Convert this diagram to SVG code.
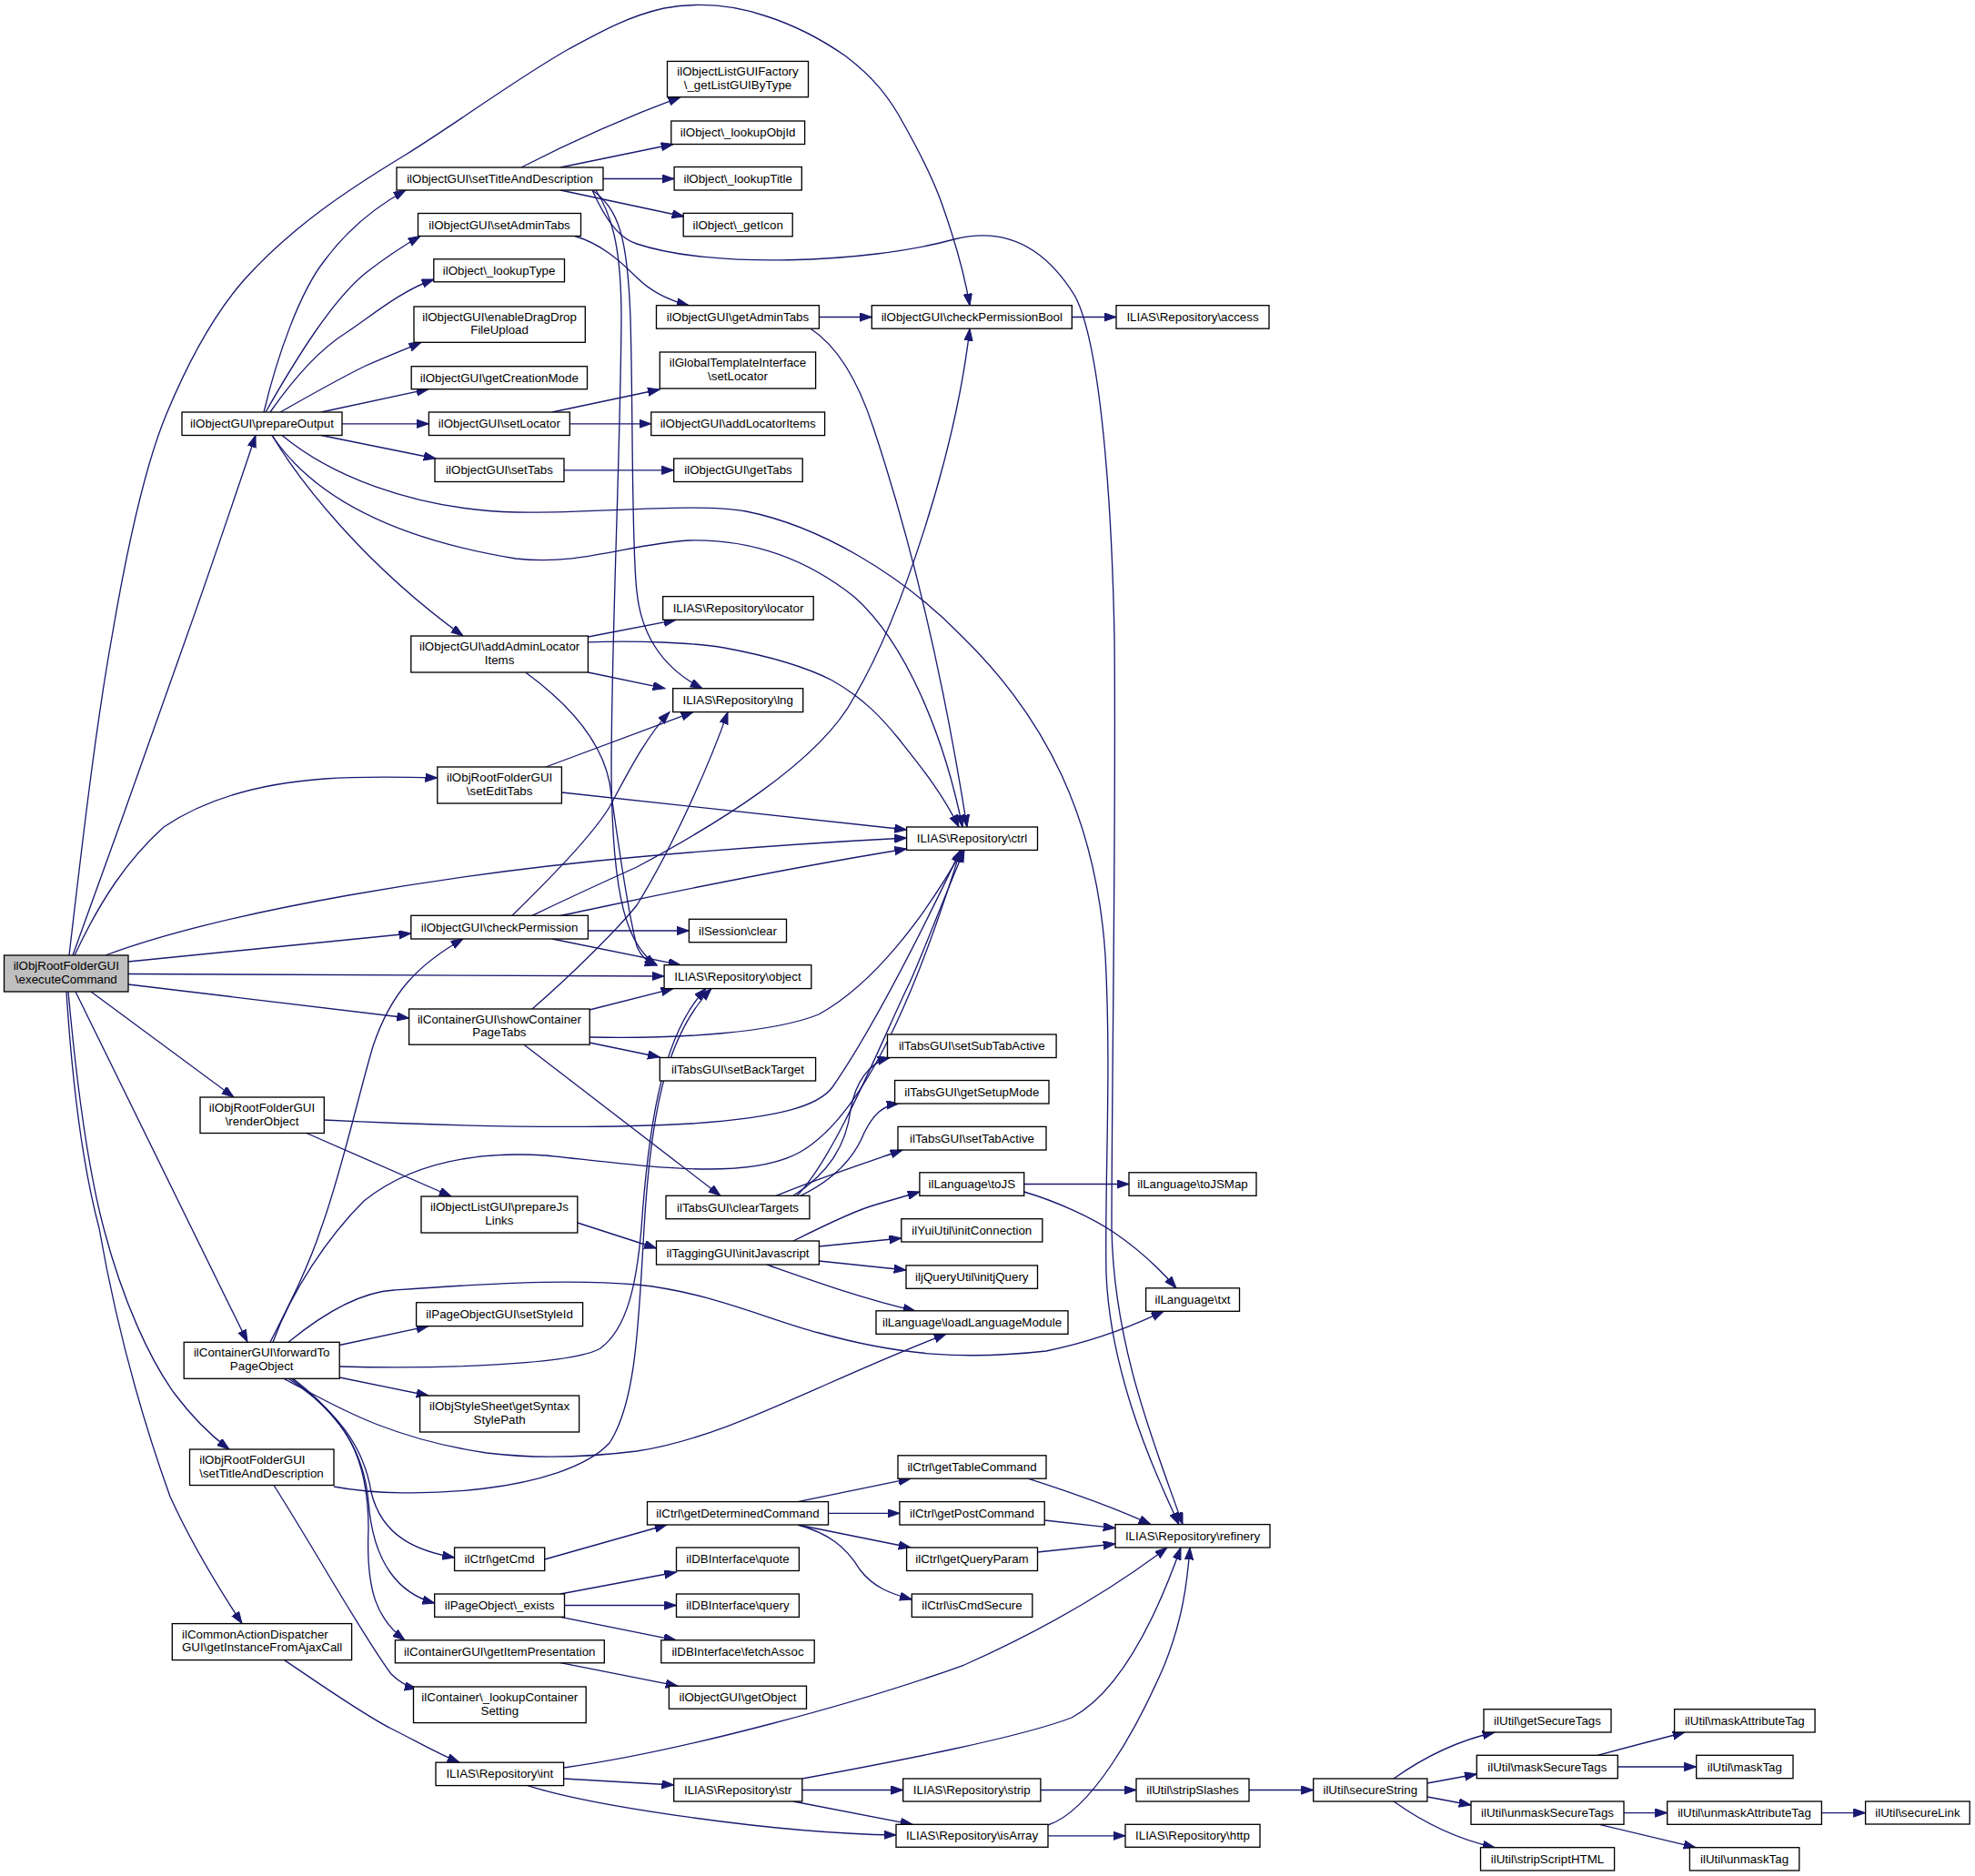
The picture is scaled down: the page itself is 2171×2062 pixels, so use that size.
<svg xmlns="http://www.w3.org/2000/svg" width="2171" height="2062" viewBox="0 0 2171 2062">
<style>
.node rect{fill:#fff;stroke:#000;stroke-width:1.33}
.root rect{fill:#bfbfbf}
text{font-family:"Liberation Sans",Arial,Helvetica,sans-serif;font-size:13.33px;fill:#000}
.node text{text-anchor:middle}
.node text.l{text-anchor:start}
.edges path{fill:none;stroke:#191970;stroke-width:1.33;marker-end:url(#ah)}
</style>
<defs>
<marker id="ah" markerUnits="userSpaceOnUse" markerWidth="15" markerHeight="11" refX="13.3" refY="4.65" orient="auto">
<path d="M0,0 L13.3,4.65 L0,9.3 z" fill="#191970" stroke="#191970" stroke-width="1"/>
</marker>
</defs>
<rect width="2171" height="2062" fill="#fff"/>
<g class="edges">
<path d="M76,1050 C90,930 105,800 123,700 C140,600 160,510 183,455 C210,390 240,340 268,308 C320,250 380,210 446,170 C510,130 570,85 625,54 C660,35 690,18 730,9 C780,0 820,10 843,18 C880,30 910,48 930,62 C960,85 975,105 987,125 C1010,165 1025,195 1035,223 C1050,265 1060,300 1066,336"/>
<path d="M80,1050 C120,940 170,800 205,700 C230,630 262,535 281,478.5"/>
<path d="M82,1050 C110,990 140,945 180,909 C235,872 300,860 357,856 C400,853 440,854 480.8,855"/>
<path d="M116,1050 C250,1000 500,960 700,942 C800,933 900,926 996.6,921"/>
<path d="M141,1057 L451.8,1026"/>
<path d="M141,1070.5 L730.1,1073"/>
<path d="M141,1082 L449.6,1119"/>
<path d="M100,1090 L257,1206"/>
<path d="M83,1090 L272,1475"/>
<path d="M75,1090 C85,1200 98,1290 114,1350 C135,1430 165,1495 192,1532 C210,1556 228,1575 252,1593"/>
<path d="M73,1090 C80,1200 93,1290 109,1350 C130,1470 160,1570 187,1645 C212,1700 240,1745 266,1784.6"/>
<path d="M290,453 C305,390 330,320 357,286 C380,255 408,230 446,209"/>
<path d="M292,453 C325,395 365,330 402,300 C420,286 440,272 462,259.5"/>
<path d="M297,453 C320,420 350,385 380,366 C410,346 440,320 477,307"/>
<path d="M308,453 C340,435 375,415 402,402 C425,392 445,384 463,376.3"/>
<path d="M353,453 L471,427.7"/>
<path d="M376,465.8 L471.4,465.8"/>
<path d="M353,478.5 L479,504"/>
<path d="M310,478.5 C360,520 450,560 567,563 C650,565 760,552 820,562 C900,578 990,630 1058,700 C1150,790 1205,900 1215,1050 C1222,1180 1214,1300 1216,1400 C1220,1500 1260,1600 1296,1675.6"/>
<path d="M299,478.5 C340,540 420,590 567,614 C640,622 690,598 757,594 C840,592 900,625 939,656 C1000,710 1040,820 1058,909"/>
<path d="M299,478.5 C330,530 400,620 509,699"/>
<path d="M573,184 C620,160 680,132 748,106.7"/>
<path d="M616,184 L740,158.5"/>
<path d="M663,196.5 L741,196.5"/>
<path d="M616,209 L752,238"/>
<path d="M651,209 C665,240 680,262 700,268 C780,295 950,290 1049,263 C1120,245 1160,290 1182,326 C1210,380 1222,550 1225,700 C1227,900 1222,1200 1222,1350 C1224,1480 1270,1590 1300,1675.6"/>
<path d="M651,209 C680,230 690,260 693,350 C696,450 694,600 700,650 C705,700 730,735 772,756.7"/>
<path d="M655,209 C675,240 683,280 683,350 C682,500 672,700 672,850 C673,990 690,1040 722,1060.7"/>
<path d="M632,259.5 C660,268 680,285 700,305 C715,320 735,330 757,335.7"/>
<path d="M900.4,348.5 L958.3,348.5"/>
<path d="M891,361.2 C920,380 942,415 960,470 C990,560 1030,700 1063,909"/>
<path d="M1178.3,348.5 L1227,348.5"/>
<path d="M607,453 L725.3,428"/>
<path d="M626.3,465.8 L715.8,465.8"/>
<path d="M620,516.8 L740.7,516.8"/>
<path d="M646.4,700 L743,681.3"/>
<path d="M646.4,739 L731,756.7"/>
<path d="M646.4,705.8 C700,704 760,706 796,712 C850,722 890,735 915,748 C950,768 970,790 987,811 C1010,840 1035,870 1054,909"/>
<path d="M578,739.3 C620,770 660,810 670,860 C680,930 690,1000 700,1040 C705,1052 712,1058 722,1061"/>
<path d="M600,843 L762,782.6"/>
<path d="M617.4,871 L996.6,912"/>
<path d="M563,1006.3 C600,970 650,920 670,887 C690,850 710,810 736,782.6"/>
<path d="M585,1006.3 C640,980 680,962 700,953 C780,910 900,840 939,766 C990,680 1050,500 1066,361.2"/>
<path d="M616,1006.3 C660,998 800,965 996.6,933"/>
<path d="M646.4,1023 L757.4,1023"/>
<path d="M607,1032 L748,1060.7"/>
<path d="M648,1110 L740,1086.6"/>
<path d="M585,1109 C630,1070 680,1020 700,995 C740,930 780,840 800,782.6"/>
<path d="M648,1140 C750,1142 850,1135 900,1115 C960,1082 1015,1010 1058,934.4"/>
<path d="M648,1146 L725.3,1162"/>
<path d="M576,1148.2 L792,1314.3"/>
<path d="M356.3,1231 C500,1238 640,1242 760,1235 C860,1228 900,1215 915,1195 C960,1130 1020,1010 1056,934.4"/>
<path d="M337,1245.5 L496,1315"/>
<path d="M872,1314.3 C910,1290 930,1260 935,1220 C940,1190 955,1168 978,1162.5"/>
<path d="M880,1314.3 C920,1295 940,1270 950,1245 C960,1225 970,1215 988,1213"/>
<path d="M853,1314.3 C900,1295 940,1282 992,1264"/>
<path d="M876,1314.3 C920,1270 975,1130 1000,1080 C1020,1035 1040,980 1060,934.4"/>
<path d="M297,1475.3 C320,1430 340,1390 353,1350 C375,1290 395,1200 410,1150 C430,1090 460,1060 509,1032"/>
<path d="M300,1475.3 C320,1420 360,1360 400,1320 C450,1280 520,1265 600,1270 C700,1280 820,1300 880,1266 C960,1220 1020,1050 1056,934.4"/>
<path d="M317,1475.3 C360,1440 400,1420 433,1418 C520,1412 620,1405 700,1412 C780,1420 843,1450 900,1465 C990,1490 1060,1495 1150,1485 C1200,1475 1240,1460 1279,1441.3"/>
<path d="M373.2,1478.5 L471,1457.6"/>
<path d="M373.2,1502 C480,1505 630,1500 660,1482 C690,1460 700,1409 705,1350 C712,1250 725,1140 776,1086.6"/>
<path d="M373.2,1514 L471,1534"/>
<path d="M312,1515.3 C360,1540 420,1580 535,1597 C600,1605 660,1600 700,1595 C800,1580 900,1520 1040,1466.3"/>
<path d="M317,1515.3 C370,1550 400,1590 408,1640 C420,1690 460,1705 499.6,1712"/>
<path d="M320,1515.3 C380,1560 400,1600 405,1650 C410,1720 440,1752 477.7,1762"/>
<path d="M322,1515.3 C380,1560 405,1600 405,1680 C402,1750 415,1780 445,1802.8"/>
<path d="M367,1634 C450,1650 620,1640 670,1586 C700,1540 702,1450 708,1350 C715,1230 730,1140 782,1086.6"/>
<path d="M301,1632.5 C350,1710 400,1800 430,1840 C440,1850 448,1854 458,1856"/>
<path d="M312.5,1824.6 C350,1850 400,1885 430,1900 C460,1915 480,1927 505,1937.2"/>
<path d="M634.8,1344 L721.5,1372"/>
<path d="M872,1364 C900,1350 940,1330 963,1324 L1011,1310"/>
<path d="M900.4,1370 L990.8,1361"/>
<path d="M900.4,1386 L996,1396"/>
<path d="M843,1390 C900,1410 950,1428 1006,1440.8"/>
<path d="M1125.7,1301.5 L1241,1301.5"/>
<path d="M1125.7,1310 C1160,1320 1200,1338 1225,1355 C1250,1372 1275,1395 1293,1415.8"/>
<path d="M598.7,1714 L733,1676"/>
<path d="M877,1650.6 L1001,1625.2"/>
<path d="M910.5,1663.3 L988.9,1663.3"/>
<path d="M877,1676 L1001,1701"/>
<path d="M877,1676 C910,1685 930,1700 945,1725 C960,1745 980,1752 1002.3,1758"/>
<path d="M1130,1625.2 C1170,1638 1220,1655 1265,1675.6"/>
<path d="M1148.2,1671 L1226,1679.6"/>
<path d="M1140.5,1706 L1226,1697"/>
<path d="M616,1752 L743.5,1728"/>
<path d="M620.5,1764.5 L743.5,1764.5"/>
<path d="M616,1777.3 L743,1802.8"/>
<path d="M616,1827.7 L745,1853.2"/>
<path d="M619.6,1943 C750,1925 950,1870 1060,1830 C1150,1790 1225,1745 1283,1701"/>
<path d="M619.6,1955 L740.7,1962"/>
<path d="M580,1962.6 C650,1985 850,2015 985,2017"/>
<path d="M881.8,1955 C990,1935 1120,1910 1178,1888 C1230,1860 1270,1780 1298,1701"/>
<path d="M881.8,1967.5 L992.7,1967.5"/>
<path d="M872,1980 L1003,2005.3"/>
<path d="M1152,2006 C1200,1990 1250,1900 1280,1830 C1300,1780 1305,1740 1308,1701"/>
<path d="M1152,2017.8 L1237,2017.8"/>
<path d="M1143.9,1967.5 L1249,1967.5"/>
<path d="M1373,1967.5 L1443.7,1967.5"/>
<path d="M1532,1955 C1560,1935 1595,1915 1643,1904"/>
<path d="M1569,1960 L1623.3,1950"/>
<path d="M1569,1975 L1617,1984"/>
<path d="M1532,1980 C1560,2000 1595,2020 1643,2030.7"/>
<path d="M1756,1929.3 L1852,1904"/>
<path d="M1778.3,1942 L1864.7,1942"/>
<path d="M1785,1992.6 L1832.7,1992.6"/>
<path d="M1758,2005.3 L1864,2030.7"/>
<path d="M2002.4,1992.6 L2050.6,1992.6"/>
</g>
<g id="n_E" class="node root"><rect x="4.5" y="1050" width="136.5" height="40"/><text x="72.8" y="1066">ilObjRootFolderGUI</text><text x="72.8" y="1080.7">\executeCommand</text></g>
<g id="n_P" class="node"><rect x="200" y="453" width="176" height="25.5"/><text x="288" y="470.3">ilObjectGUI\prepareOutput</text></g>
<g id="n_RO" class="node"><rect x="220" y="1206" width="136.3" height="39.5"/><text x="288" y="1221.8">ilObjRootFolderGUI</text><text x="288" y="1236.5">\renderObject</text></g>
<g id="n_FP" class="node"><rect x="202.2" y="1475.3" width="171" height="40"/><text x="287.7" y="1491.3">ilContainerGUI\forwardTo</text><text x="287.7" y="1506">PageObject</text></g>
<g id="n_RSTD" class="node"><rect x="208.5" y="1593" width="158.5" height="39.5"/><text class="l" x="219.2" y="1608.8">ilObjRootFolderGUI</text><text class="l" x="219.2" y="1623.5">\setTitleAndDescription</text></g>
<g id="n_GI" class="node"><rect x="189.3" y="1784.6" width="197.3" height="40"/><text class="l" x="200" y="1800.6">ilCommonActionDispatcher</text><text class="l" x="200" y="1815.3">GUI\getInstanceFromAjaxCall</text></g>
<g id="n_STD" class="node"><rect x="436" y="184" width="227" height="25"/><text x="549.5" y="201">ilObjectGUI\setTitleAndDescription</text></g>
<g id="n_SAT" class="node"><rect x="459.5" y="234.5" width="179" height="25"/><text x="549" y="251.5">ilObjectGUI\setAdminTabs</text></g>
<g id="n_LT" class="node"><rect x="476.8" y="284.8" width="143.7" height="25"/><text x="548.6" y="301.8">ilObject\_lookupType</text></g>
<g id="n_DD" class="node"><rect x="455" y="337" width="188.3" height="39.3"/><text x="549.1" y="352.7">ilObjectGUI\enableDragDrop</text><text x="549.1" y="367.4">FileUpload</text></g>
<g id="n_CM" class="node"><rect x="452.2" y="402.7" width="193.3" height="25"/><text x="548.8" y="419.7">ilObjectGUI\getCreationMode</text></g>
<g id="n_SL" class="node"><rect x="471.4" y="453" width="154.9" height="25.5"/><text x="548.8" y="470.3">ilObjectGUI\setLocator</text></g>
<g id="n_ST" class="node"><rect x="478" y="504" width="142" height="25.5"/><text x="549" y="521.3">ilObjectGUI\setTabs</text></g>
<g id="n_AAL" class="node"><rect x="451.8" y="699" width="194.6" height="40"/><text x="549.1" y="715">ilObjectGUI\addAdminLocator</text><text x="549.1" y="729.7">Items</text></g>
<g id="n_SET" class="node"><rect x="480.8" y="843" width="136.6" height="40"/><text x="549.1" y="859">ilObjRootFolderGUI</text><text x="549.1" y="873.7">\setEditTabs</text></g>
<g id="n_CP" class="node"><rect x="451.8" y="1006.3" width="194.6" height="25.7"/><text x="549.1" y="1023.7">ilObjectGUI\checkPermission</text></g>
<g id="n_SCPT" class="node"><rect x="449.6" y="1109" width="198.6" height="39.2"/><text x="548.9" y="1124.6">ilContainerGUI\showContainer</text><text x="548.9" y="1139.3">PageTabs</text></g>
<g id="n_PJL" class="node"><rect x="463" y="1315" width="171.8" height="40"/><text x="548.9" y="1331">ilObjectListGUI\prepareJs</text><text x="548.9" y="1345.7">Links</text></g>
<g id="n_SSI" class="node"><rect x="457.6" y="1431.7" width="183" height="25.9"/><text x="549.1" y="1449.2">ilPageObjectGUI\setStyleId</text></g>
<g id="n_GSSP" class="node"><rect x="461.6" y="1534" width="175" height="40"/><text x="549.1" y="1550">ilObjStyleSheet\getSyntax</text><text x="549.1" y="1564.7">StylePath</text></g>
<g id="n_GC" class="node"><rect x="499.6" y="1701" width="99.1" height="25.5"/><text x="549.1" y="1718.3">ilCtrl\getCmd</text></g>
<g id="n_PE" class="node"><rect x="477.7" y="1752" width="142.8" height="25.3"/><text x="549.1" y="1769.2">ilPageObject\_exists</text></g>
<g id="n_GIP" class="node"><rect x="434.4" y="1802.8" width="229.9" height="25"/><text x="549.3" y="1819.8">ilContainerGUI\getItemPresentation</text></g>
<g id="n_LCS" class="node"><rect x="454.5" y="1854" width="189.7" height="39.6"/><text x="549.3" y="1869.8">ilContainer\_lookupContainer</text><text x="549.3" y="1884.5">Setting</text></g>
<g id="n_INT" class="node"><rect x="479" y="1937.2" width="140.6" height="25.4"/><text x="549.3" y="1954.4">ILIAS\Repository\int</text></g>
<g id="n_LGF" class="node"><rect x="733.5" y="67.4" width="155" height="39.3"/><text x="811" y="83.1">ilObjectListGUIFactory</text><text x="811" y="97.8">\_getListGUIByType</text></g>
<g id="n_LOI" class="node"><rect x="737.8" y="133" width="146.8" height="25.5"/><text x="811.2" y="150.3">ilObject\_lookupObjId</text></g>
<g id="n_LTi" class="node"><rect x="741.1" y="183.5" width="140.2" height="25.5"/><text x="811.2" y="200.8">ilObject\_lookupTitle</text></g>
<g id="n_GIc" class="node"><rect x="751.2" y="234.4" width="120" height="25.4"/><text x="811.2" y="251.6">ilObject\_getIcon</text></g>
<g id="n_GAT" class="node"><rect x="721.5" y="335.7" width="178.9" height="25.5"/><text x="811" y="353">ilObjectGUI\getAdminTabs</text></g>
<g id="n_GTI" class="node"><rect x="725.3" y="387" width="171.3" height="40"/><text x="811" y="403">ilGlobalTemplateInterface</text><text x="811" y="417.7">\setLocator</text></g>
<g id="n_ALI" class="node"><rect x="715.8" y="453" width="190.8" height="25.6"/><text x="811.2" y="470.3">ilObjectGUI\addLocatorItems</text></g>
<g id="n_GT" class="node"><rect x="740.7" y="504" width="141.5" height="25.5"/><text x="811.5" y="521.3">ilObjectGUI\getTabs</text></g>
<g id="n_LOC" class="node"><rect x="728.7" y="655.6" width="165.5" height="25.7"/><text x="811.5" y="673">ILIAS\Repository\locator</text></g>
<g id="n_LNG" class="node"><rect x="739.7" y="756.7" width="143" height="25.9"/><text x="811.2" y="774.2">ILIAS\Repository\lng</text></g>
<g id="n_SC" class="node"><rect x="757.4" y="1010.3" width="107.1" height="25.4"/><text x="811" y="1027.5">ilSession\clear</text></g>
<g id="n_OBJ" class="node"><rect x="730.1" y="1060.7" width="161.7" height="25.9"/><text x="811" y="1078.2">ILIAS\Repository\object</text></g>
<g id="n_SBT" class="node"><rect x="725.3" y="1162.5" width="171.3" height="25.5"/><text x="811" y="1179.8">ilTabsGUI\setBackTarget</text></g>
<g id="n_CT" class="node"><rect x="732" y="1314.3" width="157.9" height="25.4"/><text x="811" y="1331.5">ilTabsGUI\clearTargets</text></g>
<g id="n_IJ" class="node"><rect x="721.5" y="1364" width="178.9" height="26"/><text x="811" y="1381.5">ilTaggingGUI\initJavascript</text></g>
<g id="n_GDC" class="node"><rect x="711.5" y="1650.6" width="199" height="25.4"/><text x="811" y="1667.8">ilCtrl\getDeterminedCommand</text></g>
<g id="n_Q" class="node"><rect x="743.5" y="1701" width="134.9" height="25.5"/><text x="811" y="1718.3">ilDBInterface\quote</text></g>
<g id="n_QY" class="node"><rect x="743.5" y="1752" width="134.9" height="25.4"/><text x="811" y="1769.2">ilDBInterface\query</text></g>
<g id="n_FA" class="node"><rect x="726.8" y="1802.8" width="168.4" height="25"/><text x="811" y="1819.8">ilDBInterface\fetchAssoc</text></g>
<g id="n_GO" class="node"><rect x="735.4" y="1853.2" width="151.1" height="25"/><text x="811" y="1870.2">ilObjectGUI\getObject</text></g>
<g id="n_STR" class="node"><rect x="740.7" y="1955" width="141.1" height="25"/><text x="811.2" y="1972">ILIAS\Repository\str</text></g>
<g id="n_CPB" class="node"><rect x="958.3" y="335.7" width="220" height="25.5"/><text x="1068.3" y="353">ilObjectGUI\checkPermissionBool</text></g>
<g id="n_CTRL" class="node"><rect x="996.6" y="909" width="143.9" height="25.4"/><text x="1068.5" y="926.2">ILIAS\Repository\ctrl</text></g>
<g id="n_SSTA" class="node"><rect x="975.5" y="1137" width="185.6" height="25.5"/><text x="1068.3" y="1154.3">ilTabsGUI\setSubTabActive</text></g>
<g id="n_GSM" class="node"><rect x="983.6" y="1187.5" width="169.4" height="25.5"/><text x="1068.3" y="1204.8">ilTabsGUI\getSetupMode</text></g>
<g id="n_STA" class="node"><rect x="987" y="1238.4" width="163" height="25.6"/><text x="1068.5" y="1255.7">ilTabsGUI\setTabActive</text></g>
<g id="n_TOJS" class="node"><rect x="1010.9" y="1288.8" width="114.8" height="25.5"/><text x="1068.3" y="1306.1">ilLanguage\toJS</text></g>
<g id="n_IC" class="node"><rect x="990.8" y="1339.7" width="155" height="25.3"/><text x="1068.3" y="1356.9">ilYuiUtil\initConnection</text></g>
<g id="n_IJQ" class="node"><rect x="996" y="1390.9" width="144.5" height="25.4"/><text x="1068.3" y="1408.1">iljQueryUtil\initjQuery</text></g>
<g id="n_LLM" class="node"><rect x="963" y="1440.8" width="211" height="25.5"/><text x="1068.5" y="1458.1">ilLanguage\loadLanguageModule</text></g>
<g id="n_GTC" class="node"><rect x="987" y="1599.8" width="163" height="25.4"/><text x="1068.5" y="1617">ilCtrl\getTableCommand</text></g>
<g id="n_GPC" class="node"><rect x="988.9" y="1650.6" width="159.3" height="25.4"/><text x="1068.5" y="1667.8">ilCtrl\getPostCommand</text></g>
<g id="n_GQP" class="node"><rect x="996.6" y="1701" width="143.9" height="25.5"/><text x="1068.5" y="1718.3">ilCtrl\getQueryParam</text></g>
<g id="n_ICS" class="node"><rect x="1002.3" y="1752" width="132.5" height="25.4"/><text x="1068.5" y="1769.2">ilCtrl\isCmdSecure</text></g>
<g id="n_STRIP" class="node"><rect x="992.7" y="1955" width="151.2" height="25"/><text x="1068.3" y="1972">ILIAS\Repository\strip</text></g>
<g id="n_ISA" class="node"><rect x="985" y="2005.3" width="167" height="25"/><text x="1068.5" y="2022.3">ILIAS\Repository\isArray</text></g>
<g id="n_ACC" class="node"><rect x="1227" y="335.7" width="168" height="25.5"/><text x="1311" y="353">ILIAS\Repository\access</text></g>
<g id="n_TJM" class="node"><rect x="1241" y="1288.8" width="140" height="25.5"/><text x="1311" y="1306.1">ilLanguage\toJSMap</text></g>
<g id="n_TXT" class="node"><rect x="1259.6" y="1415.8" width="102.9" height="25.5"/><text x="1311" y="1433.1">ilLanguage\txt</text></g>
<g id="n_REF" class="node"><rect x="1226" y="1675.6" width="170" height="25.4"/><text x="1311" y="1692.8">ILIAS\Repository\refinery</text></g>
<g id="n_SS" class="node"><rect x="1249" y="1955" width="124" height="25"/><text x="1311" y="1972">ilUtil\stripSlashes</text></g>
<g id="n_HTTP" class="node"><rect x="1237" y="2005.3" width="148" height="25"/><text x="1311" y="2022.3">ILIAS\Repository\http</text></g>
<g id="n_SECS" class="node"><rect x="1443.7" y="1955" width="125.2" height="25"/><text x="1506.3" y="1972">ilUtil\secureString</text></g>
<g id="n_GST" class="node"><rect x="1631" y="1878.7" width="140" height="25.3"/><text x="1701" y="1895.8">ilUtil\getSecureTags</text></g>
<g id="n_MST" class="node"><rect x="1623.3" y="1929.3" width="155" height="25.4"/><text x="1700.8" y="1946.5">ilUtil\maskSecureTags</text></g>
<g id="n_UST" class="node"><rect x="1617" y="1980" width="168" height="25.3"/><text x="1701" y="1997.1">ilUtil\unmaskSecureTags</text></g>
<g id="n_SSH" class="node"><rect x="1627.5" y="2030.7" width="147.1" height="25.3"/><text x="1701" y="2047.8">ilUtil\stripScriptHTML</text></g>
<g id="n_MAT" class="node"><rect x="1840.6" y="1878.7" width="154.5" height="25.3"/><text x="1917.8" y="1895.8">ilUtil\maskAttributeTag</text></g>
<g id="n_MT" class="node"><rect x="1864.7" y="1929.3" width="106.3" height="25.4"/><text x="1917.8" y="1946.5">ilUtil\maskTag</text></g>
<g id="n_UAT" class="node"><rect x="1832.7" y="1980" width="169.7" height="25.3"/><text x="1917.5" y="1997.1">ilUtil\unmaskAttributeTag</text></g>
<g id="n_UT" class="node"><rect x="1857.4" y="2030.7" width="120.4" height="25.3"/><text x="1917.6" y="2047.8">ilUtil\unmaskTag</text></g>
<g id="n_SLK" class="node"><rect x="2050.6" y="1980" width="114.6" height="25"/><text x="2107.9" y="1997">ilUtil\secureLink</text></g>
</svg>
